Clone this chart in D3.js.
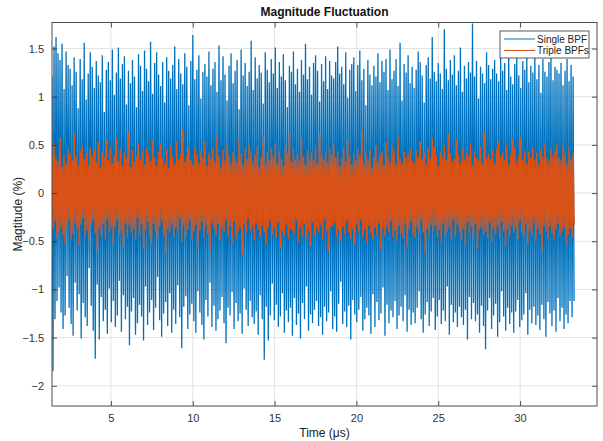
<!DOCTYPE html>
<html><head><meta charset="utf-8">
<script src="https://cdn.jsdelivr.net/npm/d3@7"></script>
<style>body{margin:0;background:#fff;} svg{display:block;font-family:"Liberation Sans",Arial,Helvetica,sans-serif;}</style>
</head><body><svg id="c" width="603" height="441"></svg>
<script>
const title = "Magnitude Fluctuation";
const xLabel = "Time (\u03bcs)";
const yLabel = "Magtitude (%)";
const seriesNames = ["Single BPF", "Triple BPFs"];
const xTicks = [5, 10, 15, 20, 25, 30];
const yTicks = [-2, -1.5, -1, -0.5, 0, 0.5, 1, 1.5];
const xDomain = [1.4, 34.7];
const yDomain = [-2.21, 1.77];
const tStart = 1.4, tEnd = 33.3;   // time span covered by samples (µs)

const singleBPF = [
1.21,-1.85,1.52,-1.31,1.62,-1.12,1.45,-0.98,1.38,-1.24,1.55,-1.41,1.08,-1.27,1.47,-0.86,1.33,-1.19,1.29,-1.36,
1.12,-1.48,1.41,-0.93,1.26,-1.22,0.88,-1.05,1.39,-1.51,1.18,-1.14,1.56,-1.29,0.97,-1.38,1.24,-0.78,1.46,-1.17,
1.31,-1.43,1.09,-1.72,1.37,-0.95,1.22,-1.52,1.15,-1.08,1.43,-1.33,0.84,-1.21,1.28,-1.46,1.36,-0.99,1.17,-1.34,
1.49,-1.12,1.02,-1.39,1.25,-1.27,1.51,-0.91,1.19,-1.44,1.34,-1.06,1.42,-1.31,0.92,-1.18,1.27,-1.58,1.14,-1.23,
1.38,-1.09,1.21,-1.47,0.89,-1.35,1.44,-1.16,1.32,-1.28,1.06,-1.53,1.48,-0.97,1.29,-1.37,1.16,-1.24,1.57,-1.11,
1.03,-1.42,1.35,-1.19,1.46,-0.87,1.23,-1.32,1.11,-1.49,1.36,-1.25,0.94,-1.13,1.41,-1.38,1.27,-1.04,1.19,-1.45,
1.33,-1.21,1.52,-1.36,1.08,-0.96,1.39,-1.29,1.24,-1.61,1.13,-1.18,1.45,-1.07,1.31,-1.41,0.91,-1.26,1.37,-1.15,
1.64,-1.33,1.18,-1.45,1.28,-1.02,1.43,-1.24,0.98,-1.37,1.26,-1.52,1.34,-1.11,1.21,-1.28,1.47,-0.93,1.12,-1.39,
1.29,-1.17,1.36,-1.43,1.05,-1.31,1.53,-1.22,1.17,-1.08,1.42,-1.35,1.23,-1.56,0.96,-1.19,1.32,-1.27,1.45,-1.03,
1.14,-1.41,1.27,-1.14,1.38,-1.33,0.87,-1.25,1.49,-1.46,1.22,-0.99,1.35,-1.21,1.11,-1.38,1.26,-1.12,1.58,-1.29,
1.07,-1.36,1.41,-1.23,1.19,-1.47,1.33,-1.06,1.25,-1.31,0.93,-1.73,1.46,-1.18,1.28,-1.53,1.15,-1.27,1.39,-0.94,
1.24,-1.32,1.51,-1.16,1.09,-1.39,1.36,-1.28,1.21,-1.04,1.44,-1.45,1.17,-1.22,0.89,-1.34,1.32,-1.19,1.26,-1.48,
1.47,-1.09,1.13,-1.37,1.29,-1.25,1.05,-1.51,1.38,-1.14,1.23,-1.31,1.55,-0.97,1.18,-1.43,1.31,-1.26,1.02,-1.35,
1.35,-1.21,1.43,-1.12,1.27,-1.38,0.95,-1.29,1.34,-1.47,1.16,-1.18,1.42,-1.33,1.08,-1.24,1.37,-1.02,1.22,-1.41,
1.19,-1.28,1.36,-1.44,1.52,-1.15,1.24,-0.92,1.31,-1.36,1.13,-1.23,1.46,-1.39,0.99,-1.17,1.28,-1.52,1.34,-1.11,
1.41,-1.26,1.06,-1.34,1.33,-1.21,1.48,-1.08,1.17,-1.43,1.29,-1.31,0.91,-1.19,1.38,-1.27,1.23,-1.46,1.12,-1.05,
1.32,-1.39,1.21,-1.13,1.45,-1.32,1.15,-1.25,1.37,-0.98,1.26,-1.48,1.39,-1.16,1.07,-1.35,1.49,-1.22,1.18,-1.29,
1.27,-1.12,1.39,-1.41,1.11,-1.27,1.56,-1.18,0.96,-1.33,1.34,-1.06,1.25,-1.44,1.43,-1.21,1.14,-1.37,1.31,-1.24,
1.09,-1.35,1.28,-1.19,1.47,-1.02,1.36,-1.31,1.22,-1.45,0.94,-1.26,1.33,-1.13,1.41,-1.38,1.19,-1.23,1.62,-1.09,
1.26,-1.42,1.16,-1.28,1.35,-1.11,1.24,-1.36,1.08,-1.22,1.70,-1.33,1.29,-0.97,1.17,-1.47,1.38,-1.16,1.23,-1.34,
1.43,-1.24,1.12,-1.39,1.27,-1.18,1.51,-1.29,1.05,-1.37,1.32,-1.21,1.19,-1.52,1.36,-1.08,1.25,-1.31,1.76,-1.14,
1.21,-1.33,1.37,-1.26,0.98,-1.45,1.31,-1.17,1.24,-1.38,1.14,-1.62,1.46,-1.22,1.33,-1.09,1.18,-1.41,1.29,-1.27,
1.38,-1.15,1.24,-1.49,1.16,-1.34,1.42,-1.02,1.27,-1.28,1.35,-1.43,1.07,-1.19,1.48,-1.36,1.21,-1.24,1.13,-1.45,
1.34,-1.23,1.46,-1.11,1.22,-1.39,1.09,-1.32,1.37,-1.26,1.28,-1.04,1.41,-1.47,1.15,-1.21,1.32,-1.35,1.25,-1.18,
1.45,-1.37,1.18,-1.27,1.33,-1.42,1.04,-1.16,1.39,-1.31,1.26,-1.49,1.21,-1.13,1.36,-1.25,1.42,-1.38,1.17,-1.22,
1.31,-1.44,1.28,-1.09,1.24,-1.33,1.35,-1.19,1.12,-1.41,1.27,-1.26,1.39,-1.35,1.16,-1.12,1.33,-1.29,1.21,-1.12
];

const tripleBPFs = [
0.42,-0.38,0.51,-0.29,0.36,-0.47,0.33,-0.41,0.58,-0.35,0.27,-0.44,0.39,-0.52,0.31,-0.36,0.46,-0.28,0.41,-0.49,
0.34,-0.43,0.62,-0.31,0.38,-0.37,0.29,-0.55,0.44,-0.33,0.49,-0.26,0.35,-0.46,0.41,-0.39,0.28,-0.51,0.47,-0.34,
0.39,-0.29,0.45,-0.42,0.32,-0.61,0.53,-0.37,0.26,-0.45,0.43,-0.32,0.37,-0.48,0.55,-0.27,0.34,-0.41,0.48,-0.36,
0.31,-0.52,0.40,-0.35,0.57,-0.28,0.33,-0.44,0.46,-0.39,0.29,-0.56,0.42,-0.31,0.36,-0.47,0.64,-0.34,0.27,-0.42,
0.45,-0.37,0.32,-0.49,0.38,-0.26,0.51,-0.43,0.35,-0.33,0.44,-0.58,0.29,-0.38,0.47,-0.30,0.41,-0.45,0.33,-0.54,
0.56,-0.32,0.37,-0.40,0.28,-0.47,0.43,-0.35,0.52,-0.29,0.36,-0.44,0.31,-0.62,0.45,-0.37,0.26,-0.41,0.49,-0.33,
0.38,-0.46,0.30,-0.36,0.54,-0.42,0.35,-0.27,0.41,-0.51,0.66,-0.34,0.32,-0.45,0.39,-0.38,0.47,-0.29,0.34,-0.48,
0.29,-0.41,0.48,-0.33,0.40,-0.55,0.31,-0.39,0.44,-0.30,0.37,-0.46,0.53,-0.35,0.28,-0.43,0.42,-0.59,0.36,-0.31,
0.47,-0.38,0.33,-0.44,0.60,-0.32,0.38,-0.49,0.27,-0.37,0.45,-0.41,0.34,-0.28,0.50,-0.45,0.39,-0.34,0.31,-0.53,
0.43,-0.30,0.36,-0.47,0.32,-0.40,0.55,-0.36,0.41,-0.64,0.29,-0.33,0.46,-0.42,0.35,-0.27,0.52,-0.39,0.44,-0.35,
0.33,-0.49,0.40,-0.31,0.48,-0.38,0.27,-0.45,0.37,-0.34,0.58,-0.41,0.30,-0.52,0.42,-0.36,0.34,-0.29,0.47,-0.43,
0.39,-0.35,0.52,-0.46,0.31,-0.30,0.44,-0.57,0.36,-0.40,0.28,-0.44,0.49,-0.33,0.41,-0.48,0.63,-0.37,0.32,-0.39,
0.46,-0.42,0.35,-0.28,0.40,-0.51,0.33,-0.36,0.57,-0.45,0.38,-0.32,0.29,-0.47,0.45,-0.39,0.36,-0.55,0.42,-0.30,
0.34,-0.44,0.49,-0.37,0.30,-0.41,0.61,-0.33,0.39,-0.48,0.35,-0.27,0.44,-0.40,0.32,-0.60,0.48,-0.36,0.40,-0.34,
0.51,-0.31,0.37,-0.45,0.43,-0.38,0.28,-0.50,0.36,-0.35,0.47,-0.43,0.33,-0.29,0.56,-0.41,0.38,-0.47,0.30,-0.37,
0.41,-0.53,0.34,-0.33,0.46,-0.40,0.39,-0.28,0.65,-0.46,0.31,-0.38,0.42,-0.51,0.35,-0.34,0.45,-0.42,0.27,-0.48,
0.37,-0.36,0.50,-0.44,0.33,-0.31,0.41,-0.58,0.44,-0.37,0.29,-0.45,0.53,-0.35,0.38,-0.41,0.32,-0.29,0.49,-0.46,
0.44,-0.39,0.30,-0.50,0.59,-0.34,0.36,-0.42,0.31,-0.47,0.43,-0.33,0.37,-0.56,0.40,-0.38,0.46,-0.30,0.34,-0.44,
0.32,-0.47,0.45,-0.36,0.38,-0.43,0.54,-0.29,0.35,-0.41,0.42,-0.62,0.30,-0.37,0.47,-0.45,0.36,-0.33,0.57,-0.39,
0.48,-0.34,0.39,-0.46,0.28,-0.38,0.43,-0.52,0.37,-0.31,0.50,-0.44,0.34,-0.40,0.61,-0.36,0.41,-0.48,0.33,-0.28,
0.36,-0.45,0.55,-0.33,0.40,-0.41,0.31,-0.49,0.46,-0.37,0.35,-0.54,0.42,-0.30,0.38,-0.43,0.52,-0.35,0.29,-0.47,
0.43,-0.32,0.37,-0.58,0.34,-0.39,0.48,-0.36,0.30,-0.44,0.63,-0.40,0.36,-0.46,0.41,-0.31,0.35,-0.51,0.45,-0.38,
0.31,-0.43,0.46,-0.35,0.53,-0.47,0.38,-0.30,0.42,-0.40,0.34,-0.55,0.49,-0.37,0.29,-0.45,0.40,-0.34,0.56,-0.42,
0.47,-0.36,0.33,-0.48,0.39,-0.29,0.58,-0.41,0.35,-0.46,0.44,-0.33,0.31,-0.52,0.43,-0.39,0.37,-0.44,0.48,-0.31,
0.35,-0.50,0.42,-0.37,0.30,-0.43,0.45,-0.60,0.38,-0.34,0.52,-0.40,0.36,-0.47,0.33,-0.35,0.46,-0.42,0.39,-0.49,
0.44,-0.38,0.51,-0.32,0.37,-0.45,0.34,-0.40,0.49,-0.36,0.41,-0.53,0.30,-0.43,0.47,-0.37,0.35,-0.46,0.42,-0.33
];

const colors = ["#0072BD", "#D95319"];
const W = 603, H = 441;
const m = {left: 52, right: 6, top: 22.5, bottom: 35};
const svg = d3.select("#c");
const x = d3.scaleLinear().domain(xDomain).range([m.left, W - m.right]);
const y = d3.scaleLinear().domain(yDomain).range([H - m.bottom, m.top]);
const pw = W - m.right - m.left, ph = H - m.bottom - m.top;

// grid
const g = svg.append("g");
g.selectAll(".gx").data(xTicks).join("line")
  .attr("x1", d => x(d)).attr("x2", d => x(d)).attr("y1", m.top).attr("y2", H - m.bottom)
  .attr("stroke", "#e3e3e3").attr("stroke-width", 1);
g.selectAll(".gy").data(yTicks).join("line")
  .attr("y1", d => y(d)).attr("y2", d => y(d)).attr("x1", m.left).attr("x2", W - m.right)
  .attr("stroke", "#e3e3e3").attr("stroke-width", 1);

// clip
svg.append("clipPath").attr("id", "clip").append("rect")
  .attr("x", m.left).attr("y", m.top).attr("width", pw).attr("height", ph);

function timeOf(i, n) { return tStart + (tEnd - tStart) * i / (n - 1); }
const line = d3.line().x((d, i, arr) => x(timeOf(i, arr.length))).y(d => y(d));

const plot = svg.append("g").attr("clip-path", "url(#clip)");
const widths = [1.3, 1.5];
[singleBPF, tripleBPFs].forEach((s, k) => {
  plot.append("path").datum(s).attr("d", line)
    .attr("fill", "none").attr("stroke", colors[k]).attr("stroke-width", widths[k])
    .attr("stroke-linejoin", "bevel");
});

// axes (ticks inward)
const tickCol = "#262626";
const xa = d3.axisBottom(x).tickValues(xTicks).tickSize(-5).tickPadding(8).tickFormat(d3.format("d"));
const ya = d3.axisLeft(y).tickValues(yTicks).tickSize(-5).tickPadding(8).tickFormat(d => d3.format("")(d));
const gxA = svg.append("g").attr("transform", `translate(0,${H - m.bottom})`).call(xa);
const gyA = svg.append("g").attr("transform", `translate(${m.left},0)`).call(ya);
const gxT = svg.append("g").attr("transform", `translate(0,${m.top})`).call(d3.axisTop(x).tickValues(xTicks).tickSize(-5).tickFormat(""));
const gyR = svg.append("g").attr("transform", `translate(${W - m.right},0)`).call(d3.axisRight(y).tickValues(yTicks).tickSize(-5).tickFormat(""));
[gxA, gyA, gxT, gyR].forEach(a => {
  a.select(".domain").remove();
  a.selectAll(".tick line").attr("stroke", tickCol).attr("stroke-width", 0.8);
  a.selectAll(".tick text").attr("fill", "#333").style("font-size", "11px").style("font-family", "Liberation Sans, Arial, sans-serif");
});
svg.append("rect").attr("x", m.left).attr("y", m.top).attr("width", pw).attr("height", ph)
  .attr("fill", "none").attr("stroke", "#4d4d4d").attr("stroke-width", 1);

// title and labels
svg.append("text").attr("x", m.left + pw / 2).attr("y", 16).attr("text-anchor", "middle")
  .style("font-weight", "bold").style("font-size", "12px").attr("fill", "#111").text(title);
svg.append("text").attr("x", m.left + pw / 2).attr("y", 437).attr("text-anchor", "middle")
  .style("font-size", "12px").attr("fill", "#222").text(xLabel);
svg.append("text").attr("transform", `translate(22,${m.top + ph / 2}) rotate(-90)`).attr("text-anchor", "middle")
  .style("font-size", "12px").attr("fill", "#222").text(yLabel);

// legend
const lg = svg.append("g").attr("transform", "translate(500,31)");
lg.append("rect").attr("width", 89).attr("height", 27).attr("fill", "#fff").attr("stroke", "#333").attr("stroke-width", 0.8);
seriesNames.forEach((n, k) => {
  const yy = 8 + k * 11.5;
  lg.append("line").attr("x1", 4).attr("x2", 35).attr("y1", yy).attr("y2", yy).attr("stroke", colors[k]).attr("stroke-width", 1);
  lg.append("text").attr("x", 37).attr("y", yy + 3.5).style("font-size", "10px").attr("fill", "#222").text(n);
});
</script></body></html>
